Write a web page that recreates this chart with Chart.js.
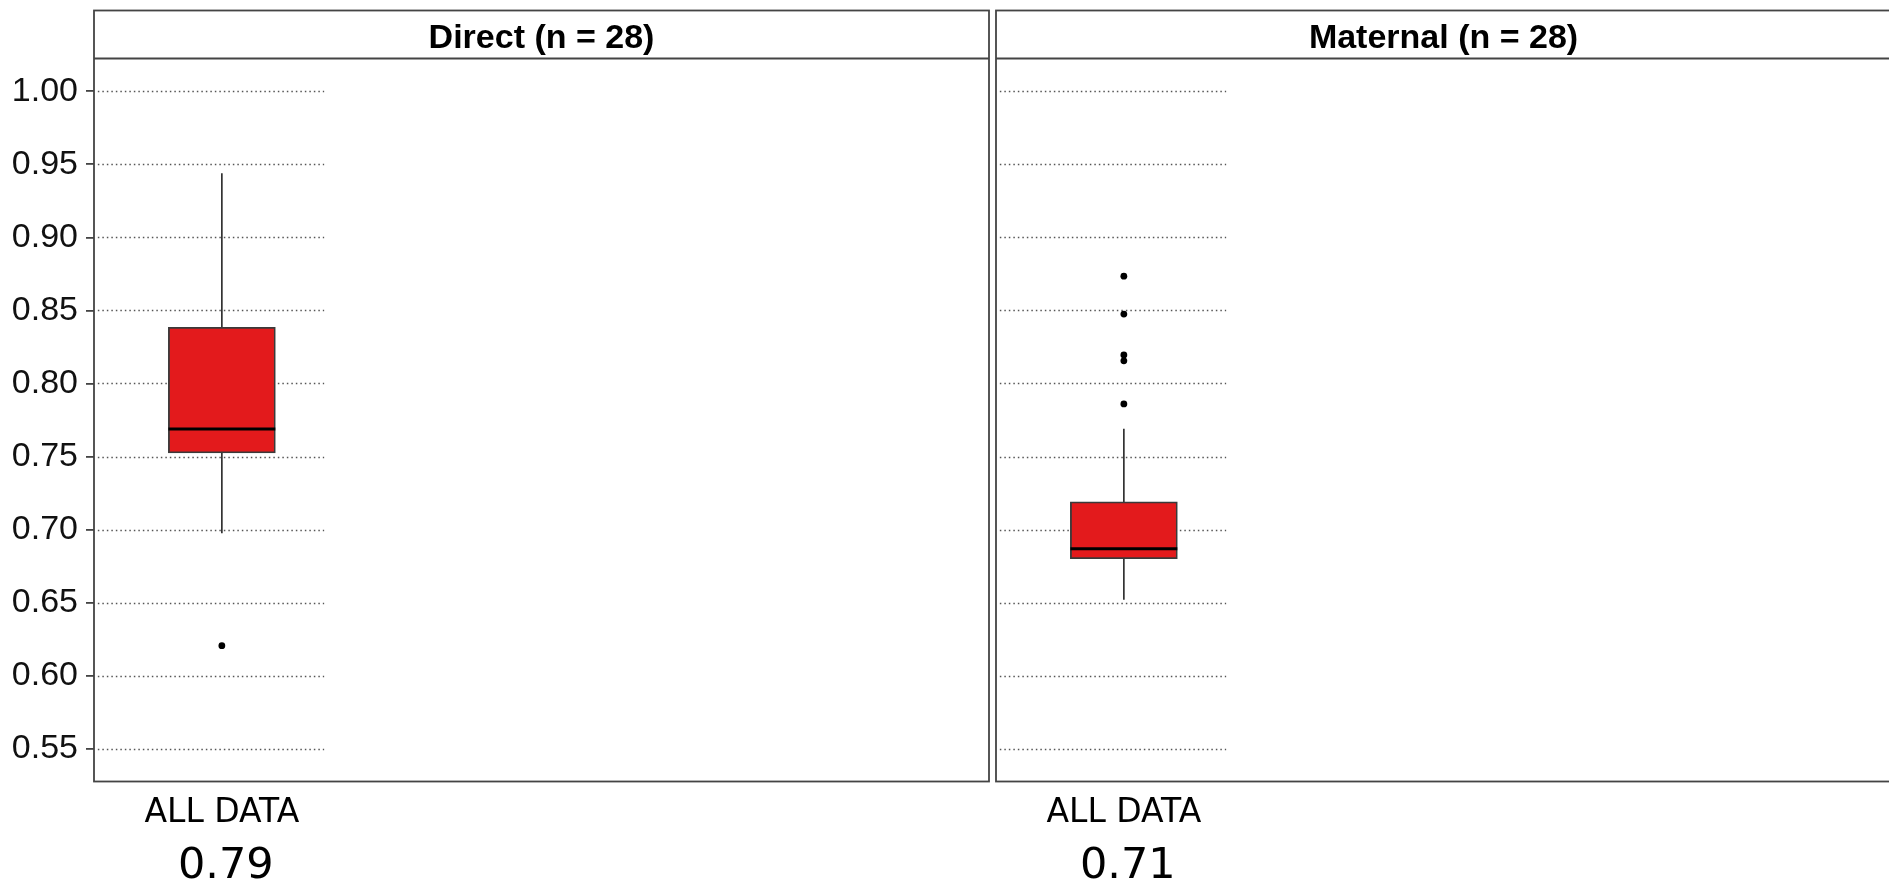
<!DOCTYPE html>
<html><head><meta charset="utf-8">
<script src="https://cdn.jsdelivr.net/npm/chart.js@4.4.1/dist/chart.umd.min.js"></script>
<style>
html,body{margin:0;padding:0;background:#fff;overflow:hidden;width:1889px;height:884px;}
canvas{position:absolute;top:0;}
#c1{left:0}
#c2{left:986px}
</style></head><body>
<canvas id="c1" width="1000" height="884"></canvas>
<canvas id="c2" width="915" height="884"></canvas>
<script>
// ---- data ----
const panelTitles = ["Direct (n = 28)", "Maternal (n = 28)"];
const categoryLabel = "ALL DATA";
const summaryLabels = ["0.79", "0.71"];
const whiskerLow  = [0.6975, 0.652];
const q1          = [0.7525, 0.680];
const median      = [0.7688, 0.6868];
const q3          = [0.8385, 0.719];
const whiskerHigh = [0.944, 0.769];
const outliersDirect   = [0.6205];
const outliersMaternal = [0.786, 0.8155, 0.8195, 0.8475, 0.8735];
const yTicks = [0.55, 0.60, 0.65, 0.70, 0.75, 0.80, 0.85, 0.90, 0.95, 1.00];

// ---- style constants ----
const BOX_X = 1;           // position of the single category
const BOX_HALF = 0.418;    // half box width in x units
const RED = '#E31A1C';
const TICK_FONT = "'Liberation Sans', Arial, sans-serif";
const LABEL_FONT = "'DejaVu Sans', Verdana, sans-serif";

const panelPlugin = {
  id: 'panel',
  beforeDatasetsDraw(chart, args, opts) {
    const {ctx, scales: {x, y}} = chart;
    ctx.save();
    ctx.strokeStyle = '#555';
    ctx.lineWidth = 1.3;
    ctx.setLineDash([1.5, 3]);
    const x0 = x.getPixelForValue(opts.gridFrom);
    const x1 = x.getPixelForValue(opts.gridTo);
    yTicks.forEach(v => {
      const py = Math.round(y.getPixelForValue(v)) + 0.5;
      ctx.beginPath(); ctx.moveTo(x0, py); ctx.lineTo(x1, py); ctx.stroke();
    });
    ctx.restore();
  },
  afterDraw(chart, args, opts) {
    const {ctx, chartArea: a, scales: {x}} = chart;
    ctx.save();
    ctx.strokeStyle = '#444';
    ctx.lineWidth = 1.8;
    ctx.strokeRect(a.left, opts.stripTop, a.right - a.left, a.bottom - opts.stripTop);
    ctx.beginPath(); ctx.moveTo(a.left, a.top); ctx.lineTo(a.right, a.top); ctx.stroke();
    ctx.fillStyle = '#000';
    ctx.textAlign = 'center';
    ctx.textBaseline = 'alphabetic';
    ctx.font = "bold 34px " + TICK_FONT;
    ctx.fillText(opts.title, (a.left + a.right) / 2, 48);
    const cx = x.getPixelForValue(BOX_X);
    ctx.font = "33px " + LABEL_FONT;
    ctx.fillText(categoryLabel, cx, 821.5);
    ctx.font = "43px " + LABEL_FONT;
    ctx.fillText(opts.summary, cx + 4, 878);
    ctx.restore();
  }
};

function makeChart(id, i, outliers, showY, pad) {
  return new Chart(document.getElementById(id), {
    type: 'bar',
    data: {
      datasets: [
        { type: 'line', data: [{x: BOX_X, y: whiskerLow[i]}, {x: BOX_X, y: whiskerHigh[i]}],
          borderColor: '#333', borderWidth: 1.7, pointRadius: 0, order: 3 },
        { type: 'bar', data: [{x: BOX_X, y: [q1[i], q3[i]]}],
          backgroundColor: RED, borderColor: '#3a3a3a', borderWidth: 1.8, borderSkipped: false,
          barThickness: 107, order: 2 },
        { type: 'line', data: [{x: BOX_X - BOX_HALF, y: median[i]}, {x: BOX_X + BOX_HALF, y: median[i]}],
          borderColor: '#000', borderWidth: 3, pointRadius: 0, order: 1 },
        { type: 'scatter', data: outliers.map(v => ({x: BOX_X, y: v})),
          pointRadius: 3.4, backgroundColor: '#000', borderWidth: 0, order: 0 }
      ]
    },
    options: {
      responsive: false, animation: false, devicePixelRatio: 1, events: [],
      layout: { padding: pad },
      plugins: {
        legend: {display: false}, tooltip: {enabled: false},
        panel: { title: panelTitles[i], summary: summaryLabels[i], stripTop: 10.5,
                 gridFrom: 0.03, gridTo: 1.8 }
      },
      scales: {
        x: { type: 'linear', min: 0, max: 7, offset: false,
             grid: {display: false}, border: {display: false}, ticks: {display: false},
             afterFit: s => { s.height = 102.5; s.paddingLeft = 0; s.paddingRight = 0; } },
        y: { type: 'linear', min: 0.5275, max: 1.0225, position: 'left', display: showY,
             afterBuildTicks: s => { s.ticks = yTicks.map(v => ({value: v})); },
             ticks: { callback: v => Number(v).toFixed(2), font: {family: TICK_FONT, size: 34},
                      color: '#111', padding: 8 },
             grid: { display: true, drawOnChartArea: false, drawTicks: true, tickLength: 8,
                     color: '#444', lineWidth: 1.8 },
             border: {display: false},
             afterFit: s => { if (showY) { s.width = 94; } s.paddingTop = 0; s.paddingBottom = 0; } }
      }
    },
    plugins: [panelPlugin]
  });
}

makeChart('c1', 0, outliersDirect, true, {top: 58.5, left: 0, right: 11, bottom: 0});
makeChart('c2', 1, outliersMaternal, false, {top: 58.5, left: 10, right: 10, bottom: 0});
</script>
</body></html>
